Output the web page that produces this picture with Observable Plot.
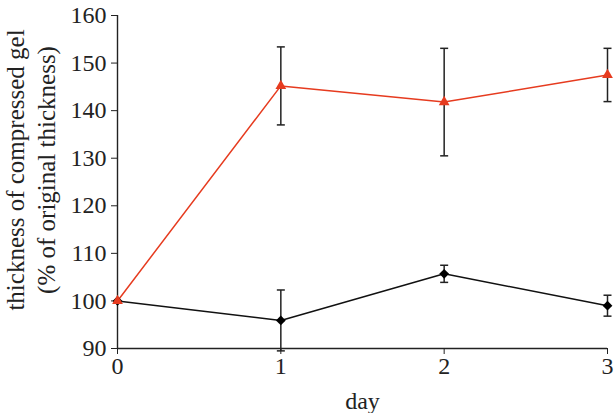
<!DOCTYPE html>
<html><head><meta charset="utf-8">
<script src="https://cdn.jsdelivr.net/npm/d3@7"></script>
<script src="https://cdn.jsdelivr.net/npm/@observablehq/plot@0.6"></script>
<style>
body{margin:0;background:#fff;overflow:hidden}
svg{display:block}
</style>
</head><body><div id="chart"></div>
<script>
const days = [0, 1, 2, 3];
const treatedMean = [100, 145.2, 141.8, 147.5];
const treatedErr = [0, 8.2, 11.3, 5.6];
const controlMean = [100, 95.9, 105.7, 99.0];
const controlErr = [0, 6.4, 1.8, 2.2];
const xTicks = [0, 1, 2, 3];
const yTicks = [90, 100, 110, 120, 130, 140, 150, 160];
const xLabel = "day";
const yLabel = "thickness of compressed gel\n(% of original thickness)";

const red = "#e63b1f";
const ink = "#222";
const serif = "Liberation Serif";

const treated = days.map((d, i) => ({day: d, v: treatedMean[i], e: treatedErr[i]}));
const control = days.map((d, i) => ({day: d, v: controlMean[i], e: controlErr[i]}));
const errs = [...treated, ...control].filter(d => d.e > 0);

const capSymbol = {
  draw(ctx, size) {
    const w = Math.sqrt(size / Math.PI);
    ctx.moveTo(-w, 0);
    ctx.lineTo(w, 0);
  }
};

const chart = Plot.plot({
  width: 614,
  height: 413,
  marginLeft: 117,
  marginRight: 7,
  marginTop: 15,
  marginBottom: 65,
  style: {fontFamily: serif, fontSize: "24px", color: ink, background: "#fff"},
  x: {domain: [0, 3]},
  y: {domain: [90, 160]},
  marks: [
    Plot.axisX({ticks: xTicks, tickSize: 6, tickPadding: 2, label: null, tickFormat: d => String(d), fontSize: 24, fontFamily: serif}),
    Plot.axisY({ticks: yTicks, tickSize: 6, tickPadding: 5, label: null, tickFormat: d => String(d), fontSize: 24, fontFamily: serif}),
    Plot.ruleY([90], {stroke: ink, strokeWidth: 1.4}),
    Plot.ruleX([0], {stroke: ink, strokeWidth: 1.4}),
    Plot.link(errs, {x1: "day", x2: "day", y1: d => d.v - d.e, y2: d => d.v + d.e, stroke: ink, strokeWidth: 1.5}),
    Plot.dot(errs, {x: "day", y: d => d.v - d.e, symbol: capSymbol, r: 4, stroke: ink, strokeWidth: 1.5, fill: "none"}),
    Plot.dot(errs, {x: "day", y: d => d.v + d.e, symbol: capSymbol, r: 4, stroke: ink, strokeWidth: 1.5, fill: "none"}),
    Plot.line(control, {x: "day", y: "v", stroke: "#111", strokeWidth: 1.5}),
    Plot.line(treated, {x: "day", y: "v", stroke: red, strokeWidth: 1.5}),
    Plot.dot(control, {x: "day", y: "v", symbol: "diamond2", r: 4.4, fill: "#000", stroke: "none"}),
    Plot.dot(treated, {x: "day", y: "v", symbol: "triangle", r: 4, fill: red, stroke: "none"}),
    Plot.text([xLabel], {frameAnchor: "bottom", lineAnchor: "bottom", dy: 60, fill: ink, fontSize: 24, fontFamily: serif}),
    Plot.text([yLabel], {frameAnchor: "left", rotate: -90, textAnchor: "middle", lineAnchor: "middle", lineHeight: 1.25, dx: -88, dy: -12, fill: ink, fontSize: 25, fontFamily: serif})
  ]
});
document.getElementById("chart").appendChild(chart);
</script>
</body></html>
